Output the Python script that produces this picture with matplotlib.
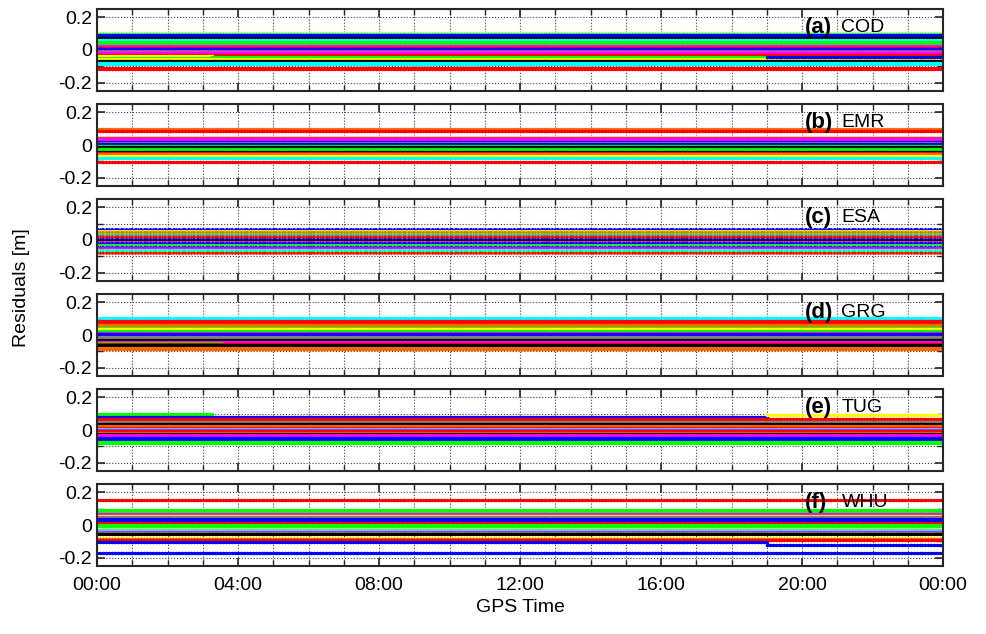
import numpy as np
import matplotlib
matplotlib.use("Agg")
import matplotlib.pyplot as plt
from matplotlib.ticker import FixedLocator

plt.rcParams['font.family'] = ['Liberation Sans', 'DejaVu Sans']

# epochs in hours (5 min sampling)
t = np.arange(0, 24 + 1e-9, 5 / 60)

# per panel: residual level of each satellite [m], its colour, and start/end hour
centers = ["COD", "EMR", "ESA", "GRG", "TUG", "WHU"]
tags = ["(a)", "(b)", "(c)", "(d)", "(e)", "(f)"]
hour_ticks = [0, 4, 8, 12, 16, 20, 24]
hour_labels = ['00:00', '04:00', '08:00', '12:00', '16:00', '20:00', '00:00']

cod_lvl = [0.105, 0.098, 0.090, 0.075, 0.068, 0.062, 0.050, 0.040, 0.022, 0.015,
           0.005, -0.004, -0.012, -0.020, -0.028, -0.036, -0.040, -0.046, -0.052,
           -0.040, -0.068, -0.078, -0.086, -0.108, -0.118]
cod_col = ['y', 'c', 'b', 'k', 'k', 'c', 'g', 'g', 'm', 'r',
           'b', 'm', 'gray', 'm', 'r', 'y', 'g', 'g', 'y',
           'b', 'k', 'c', 'c', 'r', 'r']
cod_t0 = [0, 0, 0, 0, 0, 0, 0, 0, 0, 0, 0, 0, 0, 0, 0, 0, 3.25, 0, 0, 19, 0, 0, 0, 0, 0]
cod_t1 = [24, 24, 24, 24, 24, 24, 24, 24, 24, 24, 24, 24, 24, 24, 24, 3.25, 24, 24, 24,
          24, 24, 24, 24, 24, 24]

emr_lvl = [0.096, 0.088, 0.050, 0.042, 0.034, 0.026, 0.020, 0.014, 0.006, -0.004,
           -0.012, -0.022, -0.030, -0.040, -0.047, -0.057, -0.068, -0.078, -0.103]
emr_col = ['orange', 'r', 'y', 'm', 'm', 'm', 'b', 'gray', 'b', 'g',
           'k', 'g', 'g', 'k', 'r', 'orange', 'y', 'c', 'r']
emr_t0 = [0] * len(emr_lvl)
emr_t1 = [24] * len(emr_lvl)

esa_lvl = [0.066, 0.055, 0.046, 0.035, 0.027, 0.018, 0.008, 0.000, -0.010, -0.020,
           -0.030, -0.040, -0.050, -0.062, -0.072, -0.082]
esa_col = ['b', 'y', 'orange', 'g', 'm', 'r', 'b', 'k', 'm', 'b',
           'g', 'b', 'm', 'c', 'g', 'r']
esa_t0 = [0] * len(esa_lvl)
esa_t1 = [24] * len(esa_lvl)

grg_lvl = [0.103, 0.086, 0.070, 0.062, 0.045, 0.035, 0.026, 0.014, 0.004, -0.012,
           -0.020, -0.030, -0.043, -0.048, -0.053, -0.062, -0.078, -0.088]
grg_col = ['c', 'r', 'r', 'orange', 'g', 'y', 'g', 'm', 'b', 'gray',
           'gray', 'k', 'm', 'g', 'r', 'k', 'orange', 'orange']
grg_t0 = [0] * len(grg_lvl)
grg_t1 = [24] * 13 + [3.5] + [24] * 4

tug_lvl = [0.096, 0.082, 0.090, 0.070, 0.050, 0.035, 0.025, 0.014, 0.008, 0.000,
           -0.006, -0.016, -0.022, -0.033, -0.047, -0.053, -0.057, -0.072, -0.078]
tug_col = ['g', 'b', 'y', 'r', 'gray', 'k', 'orange', 'r', 'c', 'm',
           'r', 'orange', 'k', 'm', 'b', 'c', 'b', 'g', 'g']
tug_t0 = [0, 0, 19] + [0] * 16
tug_t1 = [3.3, 19, 24] + [24] * 16

whu_lvl = [0.152, 0.090, 0.084, 0.070, 0.055, 0.050, 0.035, 0.025, 0.014, 0.000,
           -0.012, -0.022, -0.033, -0.041, -0.051, -0.057, -0.078, -0.084, -0.092,
           -0.103, -0.119, -0.170]
whu_col = ['r', 'g', 'g', 'm', 'y', 'gray', 'b', 'b', 'r', 'g',
           'g', 'y', 'c', 'm', 'gray', 'k', 'y', 'orange', 'r',
           'b', 'b', 'b']
whu_t0 = [0] * 20 + [19, 0]
whu_t1 = [24] * 19 + [19, 24, 24]

levels = [cod_lvl, emr_lvl, esa_lvl, grg_lvl, tug_lvl, whu_lvl]
colours = [cod_col, emr_col, esa_col, grg_col, tug_col, whu_col]
starts = [cod_t0, emr_t0, esa_t0, grg_t0, tug_t0, whu_t0]
ends = [cod_t1, emr_t1, esa_t1, grg_t1, tug_t1, whu_t1]

cmap = {'r': (1, 0, 0), 'g': (0, 1, 0), 'b': (0, 0, 1), 'c': (0, 1, 1),
        'm': (1, 0, 1), 'y': (1, 1, 0), 'k': (0, 0, 0), 'gray': (0.5, 0.5, 0.5),
        'orange': (1, 0.4, 0)}

W, H = 986, 634
fig = plt.figure(figsize=(W / 100, H / 100), dpi=100)

tops = [9, 104, 199, 294, 389, 484]
ph = 82
left, right = 97, 943

for i in range(6):
    ax = fig.add_axes([left / W, 1 - (tops[i] + ph) / H, (right - left) / W, ph / H])
    for lv, c, a, b in zip(levels[i], colours[i], starts[i], ends[i]):
        m = (t >= a) & (t <= b)
        if i == 2:
            ax.plot(t[m], np.full(m.sum(), lv), ':', color=cmap[c], lw=1.3,
                    marker='.', ms=2)
        else:
            ax.plot(t[m], np.full(m.sum(), lv), '-', color=cmap[c], lw=1.9,
                    marker='.', ms=3)
    ax.set_xlim(0, 24)
    ax.set_ylim(-0.25, 0.25)
    ax.xaxis.set_major_locator(FixedLocator(hour_ticks))
    ax.xaxis.set_minor_locator(FixedLocator(range(1, 24)))
    ax.yaxis.set_major_locator(FixedLocator([-0.2, 0, 0.2]))
    ax.yaxis.set_minor_locator(FixedLocator([-0.1, 0.1]))
    ax.grid(True, which='both', ls=':', color='0.25', lw=0.8)
    ax.set_axisbelow(True)
    ax.tick_params(which='both', direction='in', top=True, right=True,
                   labelsize=14, color='0.15')
    ax.tick_params(which='major', length=6, width=1.2)
    ax.tick_params(which='minor', length=4, width=1.0)
    ax.set_yticklabels(['-0.2', '0', '0.2'])
    for s in ax.spines.values():
        s.set_linewidth(1.5)
        s.set_color('0.15')
        s.set_zorder(5)
    if i < 5:
        ax.set_xticklabels([])
    else:
        ax.set_xticklabels(hour_labels)
        ax.tick_params(axis='x', pad=8)
    ax.text(0.837, 0.78, tags[i], transform=ax.transAxes, fontsize=16,
            fontweight='bold', va='center', ha='left')
    ax.text(0.880, 0.78, centers[i], transform=ax.transAxes, fontsize=14,
            va='center', ha='left')

fig.text(520 / W, 1 - 607 / H, 'GPS Time', fontsize=14, ha='center', va='center')
fig.text(22 / W, 1 - 288 / H, 'Residuals [m]', fontsize=14, ha='center',
         va='center', rotation=90)

fig.savefig('out.png', dpi=100)
